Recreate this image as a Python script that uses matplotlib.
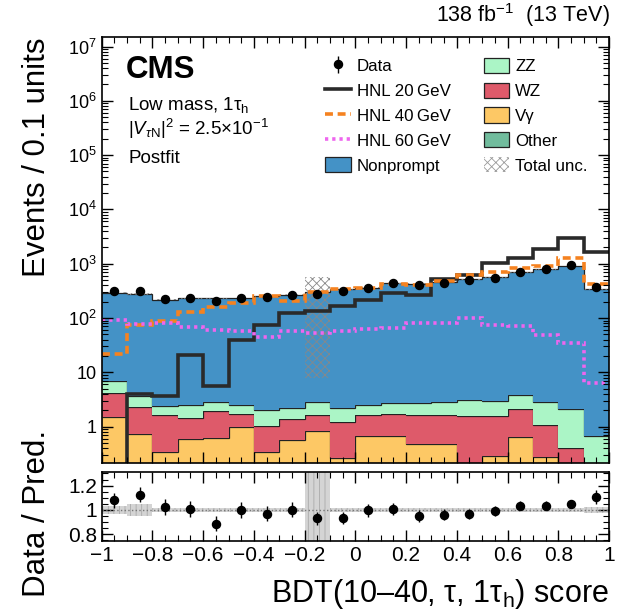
import numpy as np
import matplotlib
matplotlib.use('Agg')
import matplotlib.pyplot as plt
from matplotlib.lines import Line2D
from matplotlib.patches import Patch
from matplotlib.ticker import FixedLocator, FixedFormatter, MultipleLocator, LogLocator, NullFormatter, FuncFormatter

plt.rcParams['font.family'] = ['Liberation Sans', 'DejaVu Sans']
plt.rcParams['mathtext.fontset'] = 'custom'
plt.rcParams['mathtext.rm'] = 'Liberation Sans'
plt.rcParams['mathtext.it'] = 'Liberation Sans:italic'
plt.rcParams['mathtext.bf'] = 'Liberation Sans:bold'
plt.rcParams['hatch.linewidth'] = 0.6

# BDT score binning (20 bins of 0.1)
edges = np.round(np.arange(-1.0, 1.01, 0.1), 2)

# observed events per bin
data = [316, 316, 225, 232, 206, 235, 248, 270, 278, 316,
        363, 437, 407, 449, 497, 555, 715, 812, 951, 374]

# postfit backgrounds
nonprompt = [286, 277, 217, 228, 229, 232, 254, 267, 296, 336,
             362, 432, 426, 464, 511, 558, 686, 781, 905, 337]
zz = [2.75, 1.30, 0.77, 1.09, 0.88, 0.87, 0.98, 0.86, 1.18, 0.92,
      0.94, 1.01, 1.16, 1.15, 1.58, 1.36, 1.75, 1.75, 1.72, 0.61]
wz = [2.64, 1.58, 1.27, 0.88, 1.32, 0.71, 0.67, 0.80, 0.79, 0.98,
      0.93, 1.07, 1.14, 1.19, 1.45, 1.28, 1.49, 0.79, 0.29, 0.02]
vgamma = [1.51, 0.72, 0.32, 0.56, 0.59, 0.95, 0.32, 0.54, 0.82, 0.24,
          0.66, 0.64, 0.45, 0.45, 0.10, 0.27, 0.62, 0.25, 0.10, 0.03]
other = [0.02, 0.02, 0.02, 0.02, 0.02, 0.02, 0.02, 0.02, 0.02, 0.02,
         0.02, 0.02, 0.02, 0.02, 0.02, 0.02, 0.02, 0.02, 0.02, 0.02]

# relative total uncertainty (up / down)
unc_up = [0.03, 0.05, 0.015, 0.015, 0.015, 0.015, 0.015, 0.015, 0.91, 0.015,
          0.015, 0.015, 0.015, 0.015, 0.015, 0.015, 0.015, 0.015, 0.015, 0.025]
unc_dn = [0.03, 0.05, 0.015, 0.015, 0.015, 0.015, 0.015, 0.015, 0.974, 0.015,
          0.015, 0.015, 0.015, 0.015, 0.015, 0.015, 0.015, 0.015, 0.015, 0.025]

# signal hypotheses
hnl20 = [0.15, 3.98, 3.6, 20.9, 5.65, 39.5, 74.4, 125, 136, 170,
         214, 286, 266, 525, 622, 1021, 1295, 1874, 2950, 1629]
hnl40 = [21.9, 74.4, 88, 127, 157, 191, 253, 208, 304, 336,
         360, 421, 407, 482, 622, 697, 826, 911, 1260, 419]
hnl60 = [92, 78, 82, 69, 60, 58, 45, 58, 54, 58.5,
         62, 66, 80, 82, 99, 74, 72, 49, 35, 6.3]

c_nonprompt = '#4492c6'
c_zz = '#abf5c6'
c_wz = '#de5a6a'
c_vg = '#fdc865'
c_other = '#71bc9d'

data = np.array(data, dtype=float)
centers = 0.5 * (edges[:-1] + edges[1:])

fig = plt.figure(figsize=(6.25, 6.13), dpi=100)
ax = fig.add_axes([0.1627, 0.2452, 0.8117, 0.694])
rax = fig.add_axes([0.1627, 0.1175, 0.8117, 0.1121], sharex=ax)

# stacked backgrounds
base = np.full(len(data), 1e-3)
for vals, col in [(other, c_other), (vgamma, c_vg), (wz, c_wz), (zz, c_zz), (nonprompt, c_nonprompt)]:
    top = base + np.array(vals)
    ax.stairs(top, edges, baseline=base, fill=True, facecolor=col, edgecolor='none')
    ax.stairs(top, edges, baseline=None, color='#222222', lw=0.9)
    base = top
total = base

# total uncertainty
ax.stairs(total * (1 + np.array(unc_up)), edges, baseline=total * (1 - np.array(unc_dn)),
          fill=True, facecolor='none', edgecolor='#888888', hatch='xxxx', lw=0)

# signals
ax.stairs(hnl20, edges, baseline=None, color='#2a2a2a', lw=2.6)
ax.stairs(hnl40, edges, baseline=None, color='#f58220', lw=2.6, linestyle=(0, (2.2, 1.3)))
ax.stairs(hnl60, edges, baseline=None, color='#ee66ee', lw=2.6, linestyle=(0, (0.9, 1.1)))

dat = ax.errorbar(centers, data, yerr=np.sqrt(data), fmt='o', color='black', ms=5.8,
                  elinewidth=1.0, capsize=0)

ax.set_yscale('log')
ax.set_xlim(-1, 1)
ax.set_ylim(0.217, 1.48e7)
ax.yaxis.set_major_locator(FixedLocator([1, 10, 1e2, 1e3, 1e4, 1e5, 1e6, 1e7]))
ax.yaxis.set_major_formatter(FixedFormatter(['1', '10', '$10^{2}$', '$10^{3}$', '$10^{4}$',
                                             '$10^{5}$', '$10^{6}$', '$10^{7}$']))
ax.yaxis.set_minor_locator(LogLocator(base=10, subs=np.arange(2, 10), numticks=50))
ax.yaxis.set_minor_formatter(NullFormatter())
ax.xaxis.set_major_locator(MultipleLocator(0.2))
ax.xaxis.set_minor_locator(MultipleLocator(0.05))
ax.tick_params(which='both', direction='in', top=True, right=True, labelbottom=False)
ax.tick_params(which='major', length=8, width=1.0, labelsize=13)
ax.tick_params(which='minor', length=4, width=0.8)
for s in ax.spines.values():
    s.set_linewidth(1.2)

ax.set_ylabel('Events / 0.1 units', fontsize=22.5, loc='top')
ax.yaxis.set_label_coords(-0.098, 1.0)

# legends
h1 = [dat,
      Line2D([], [], color='#2a2a2a', lw=2.6),
      Line2D([], [], color='#f58220', lw=2.6, linestyle=(0, (2.2, 1.3))),
      Line2D([], [], color='#ee66ee', lw=2.6, linestyle=(0, (0.9, 1.1))),
      Patch(facecolor=c_nonprompt, edgecolor='#222222', lw=0.9)]
l1 = ['Data', 'HNL 20\u2009GeV', 'HNL 40\u2009GeV', 'HNL 60\u2009GeV', 'Nonprompt']
h2 = [Patch(facecolor=c_zz, edgecolor='#222222', lw=0.9),
      Patch(facecolor=c_wz, edgecolor='#222222', lw=0.9),
      Patch(facecolor=c_vg, edgecolor='#222222', lw=0.9),
      Patch(facecolor=c_other, edgecolor='#222222', lw=0.9),
      Patch(facecolor='none', edgecolor='#999999', hatch='xxxx', lw=0)]
l2 = ['ZZ', 'WZ', 'V\u03b3', 'Other', 'Total unc.']
leg_kw = dict(frameon=False, fontsize=12.2, handlelength=1.5, handleheight=1.0,
              handletextpad=0.35, labelspacing=0.5, borderpad=0, borderaxespad=0,
              loc='upper left')
leg1 = ax.legend(h1, l1, bbox_to_anchor=(0.441, 0.952), **leg_kw)
ax.add_artist(leg1)
ax.legend(h2, l2, bbox_to_anchor=(0.753, 0.952), **leg_kw)

# labels
W, H = 625.0, 613.0
fig.text(126 / W, 1 - 78 / H, 'CMS', fontsize=22.5, fontweight='bold', va='baseline')
fig.text(128 / W, 1 - 110 / H, 'Low mass, 1\u03c4$_\\mathrm{h}$', fontsize=13.5, va='baseline')
fig.text(128 / W, 1 - 135 / H, '|$V_{\\tau\\mathrm{N}}$|$^{2}$ = 2.5\u00d710$^{-1}$', fontsize=13.5, va='baseline')
fig.text(128 / W, 1 - 163 / H, 'Postfit', fontsize=13.5, va='baseline')
fig.text(610 / W, 1 - 22 / H, '138 fb$^{-1}$  (13 TeV)', fontsize=15.5, ha='right', va='baseline')

# ratio panel
ratio = data / total
rerr = np.sqrt(data) / total
rax.stairs(1 + np.array(unc_up), edges, baseline=1 - np.array(unc_dn), fill=True,
           facecolor='#d4d4d4', edgecolor='#aaaaaa', hatch='|||', lw=0)
rax.axhline(1, color='#777777', ls=':', lw=1.0)
rax.errorbar(centers, ratio, yerr=rerr, fmt='o', color='black', ms=5.8, elinewidth=1.0, capsize=0)
rax.set_ylim(0.745, 1.31)
rax.set_xlim(-1, 1)
rax.yaxis.set_major_locator(FixedLocator([0.8, 1.0, 1.2]))
rax.yaxis.set_major_formatter(FixedFormatter(['0.8', '1', '1.2']))
rax.yaxis.set_minor_locator(MultipleLocator(0.05))
rax.xaxis.set_major_formatter(FuncFormatter(lambda v, p: ('%g' % round(v, 2)).replace('-', '\u2212')))
rax.tick_params(which='both', direction='in', top=True, right=True)
rax.tick_params(which='major', length=8, width=1.0, labelsize=15)
rax.tick_params(which='minor', length=4, width=0.8)
for s in rax.spines.values():
    s.set_linewidth(1.2)
rax.set_ylabel('Data / Pred.', fontsize=22.5)
rax.yaxis.set_label_coords(-0.098, 0.4)
rax.set_xlabel('BDT(10\u201340, \u03c4, 1\u03c4$_\\mathrm{h}$) score', fontsize=22, loc='right')
rax.xaxis.set_label_coords(1.0, -0.52)

fig.savefig('out.png', dpi=100)
